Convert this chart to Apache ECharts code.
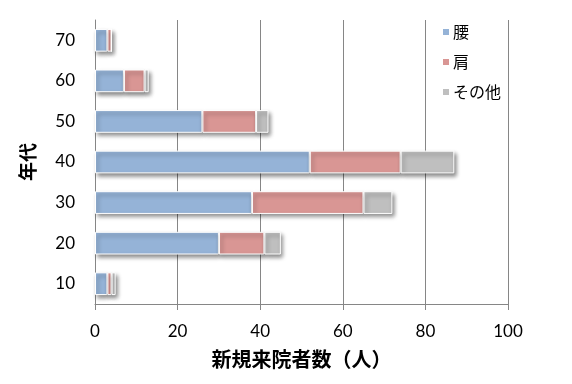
<!DOCTYPE html>
<html><head><meta charset="utf-8">
<script src="https://cdn.jsdelivr.net/npm/echarts@6/dist/echarts.min.js"></script>
<style>html,body{margin:0;padding:0;background:#fff}#c{width:572px;height:384px}</style>
</head><body><div id="c"></div>
<script>
const categories = ['10','20','30','40','50','60','70'];
const waist = [3, 30, 38, 52, 26, 7, 3];
const shoulder = [1, 11, 27, 22, 13, 5, 1];
const other = [1, 4, 7, 13, 3, 1, 0];
const xTicks = [0, 20, 40, 60, 80, 100];
const seriesNames = ['腰', '肩', 'その他'];
const colors = ['#95B3D7', '#D99694', '#BFBFBF'];

const numFont = 'Lato, "Open Sans", sans-serif';
const jpFont = '"Noto Sans CJK JP", sans-serif';
const chart = echarts.init(document.getElementById('c'), null, {renderer: 'canvas'});
const mk = (name, data, color) => ({
  name, type: 'bar', stack: 'total', data, barCategoryGap: '44%',
  itemStyle: {color, borderColor: '#ffffff', borderWidth: 1,
    shadowColor: 'rgba(0,0,0,0.45)', shadowBlur: 4, shadowOffsetX: 2, shadowOffsetY: 3},
  emphasis: {disabled: true}
});
chart.setOption({
  animation: false,
  grid: {left: 95, right: 64, top: 20, bottom: 80, containLabel: false},
  legend: {
    orient: 'vertical', left: 436, top: 19, itemWidth: 8, itemHeight: 8, itemGap: 14,
    icon: 'rect', data: seriesNames,
    textStyle: {fontFamily: jpFont, fontSize: 16, color: '#000', padding: [0, 0, 0, -2]}
  },
  xAxis: {
    type: 'value', min: xTicks[0], max: xTicks[xTicks.length - 1], interval: 20,
    name: '新規来院者数（人）', nameLocation: 'middle', nameGap: 45,
    nameTextStyle: {fontFamily: jpFont, fontSize: 20, fontWeight: 'bold', color: '#000'},
    axisLine: {show: true, lineStyle: {color: '#868686', width: 1}},
    axisTick: {show: true, length: 6, lineStyle: {color: '#868686'}},
    axisLabel: {fontFamily: numFont, fontSize: 17, color: '#000', margin: 19},
    splitLine: {show: true, lineStyle: {color: '#868686', width: 1}}
  },
  yAxis: {
    type: 'category', data: categories,
    name: '年代', nameLocation: 'middle', nameGap: 58, nameRotate: 90,
    nameTextStyle: {fontFamily: jpFont, fontSize: 19, fontWeight: 'bold', color: '#000'},
    axisLine: {show: true, lineStyle: {color: '#868686', width: 1}},
    axisTick: {show: false},
    axisLabel: {fontFamily: numFont, fontSize: 17, color: '#000', margin: 20}
  },
  series: [mk(seriesNames[0], waist, colors[0]), mk(seriesNames[1], shoulder, colors[1]), mk(seriesNames[2], other, colors[2])]
});
</script></body></html>
